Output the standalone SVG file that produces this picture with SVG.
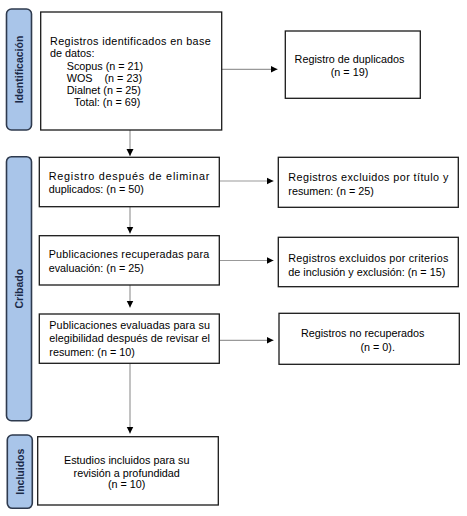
<svg xmlns="http://www.w3.org/2000/svg" width="467" height="516" viewBox="0 0 467 516">
<defs>
<marker id="ah" markerWidth="8" markerHeight="8" refX="7" refY="4" orient="auto" markerUnits="userSpaceOnUse">
<path d="M0,0.5 L7,4 L0,7.5 Z" fill="#000"/>
</marker>
<style>
.box{fill:#fff;stroke:#1a1a1a;stroke-width:1.3}
.side{fill:#a9c5e9;stroke:#2e3a4e;stroke-width:1.6}
.st{font-family:"Liberation Sans",Arial,sans-serif;font-size:10.5px;font-weight:bold;fill:#1b2a48;text-anchor:middle}
.t{font-family:"Liberation Sans",Arial,sans-serif;font-size:10.8px;fill:#000}
.c{text-anchor:middle}
.ln{stroke:#999;stroke-width:1.2;fill:none}
</style>
</defs>
<rect width="467" height="516" fill="#fff"/>
<g id="side-identificacion">
<rect class="side" x="6.5" y="9" width="25" height="121" rx="5"/>
<text class="st" transform="translate(23,69.5) rotate(-90)">Identificación</text>
</g>
<g id="side-cribado">
<rect class="side" x="6.5" y="156.7" width="25" height="264" rx="5"/>
<text class="st" transform="translate(23,288.7) rotate(-90)">Cribado</text>
</g>
<g id="side-incluidos">
<rect class="side" x="7.3" y="435" width="25" height="73.3" rx="5"/>
<text class="st" transform="translate(23.8,471.7) rotate(-90)">Incluidos</text>
</g>
<g id="connectors">
<line class="ln" x1="221.7" y1="69.3" x2="277.5" y2="69.3" marker-end="url(#ah)"/>
<line class="ln" x1="130" y1="130" x2="130" y2="156" marker-end="url(#ah)"/>
<line class="ln" x1="219.3" y1="181" x2="273.5" y2="181" marker-end="url(#ah)"/>
<line class="ln" x1="130" y1="206.7" x2="130" y2="233.5" marker-end="url(#ah)"/>
<line class="ln" x1="219.3" y1="260.5" x2="273.5" y2="260.5" marker-end="url(#ah)"/>
<line class="ln" x1="130" y1="285" x2="130" y2="307.5" marker-end="url(#ah)"/>
<line class="ln" x1="219.3" y1="340.3" x2="273.5" y2="340.3" marker-end="url(#ah)"/>
<line class="ln" x1="130" y1="363.3" x2="130" y2="433.5" marker-end="url(#ah)"/>
</g>
<g id="n1">
<rect class="box" x="40.7" y="12" width="181" height="118"/>
<text class="t" x="50" y="45" textLength="160.7" lengthAdjust="spacing">Registros identificados en base</text>
<text class="t" x="50" y="57">de datos:</text>
<text class="t" x="66.7" y="69.5">Scopus (n = 21)</text>
<text class="t" x="66.7" y="81.7">WOS <tspan x="104.5">(n = 23)</tspan></text>
<text class="t" x="66.7" y="93.7">Dialnet (n = 25)</text>
<text class="t" x="74" y="106">Total: (n = 69)</text>
</g>
<g id="n2">
<rect class="box" x="285.3" y="31" width="135" height="67.3"/>
<text class="t c" x="349.5" y="63">Registro de duplicados</text>
<text class="t c" x="349.5" y="75.7">(n = 19)</text>
</g>
<g id="n3">
<rect class="box" x="39.3" y="157.3" width="180" height="49.4"/>
<text class="t" x="48.7" y="180" textLength="160.6" lengthAdjust="spacing">Registro después de eliminar</text>
<text class="t" x="48.7" y="193.3">duplicados: (n = 50)</text>
</g>
<g id="n4">
<rect class="box" x="278.3" y="157.3" width="180" height="50"/>
<text class="t" x="288.3" y="180.7" textLength="160" lengthAdjust="spacing">Registros excluidos por título y</text>
<text class="t" x="288.3" y="195">resumen: (n = 25)</text>
</g>
<g id="n5">
<rect class="box" x="39.3" y="235.7" width="180" height="49.3"/>
<text class="t" x="48.7" y="258" textLength="160.6" lengthAdjust="spacing">Publicaciones recuperadas para</text>
<text class="t" x="48.7" y="271.7">evaluación: (n = 25)</text>
</g>
<g id="n6">
<rect class="box" x="278.3" y="237.3" width="180" height="49.4"/>
<text class="t" x="288.3" y="262.3" textLength="160" lengthAdjust="spacing">Registros excluidos por criterios</text>
<text class="t" x="288.3" y="275.7">de inclusión y exclusión: (n = 15)</text>
</g>
<g id="n7">
<rect class="box" x="39.3" y="314" width="180" height="49.3"/>
<text class="t" x="49.3" y="329" textLength="160.7" lengthAdjust="spacing">Publicaciones evaluadas para su</text>
<text class="t" x="49.3" y="342.3" textLength="160.7" lengthAdjust="spacing">elegibilidad después de revisar el</text>
<text class="t" x="49.3" y="355.7">resumen: (n = 10)</text>
</g>
<g id="n8">
<rect class="box" x="279" y="313.3" width="180.3" height="51"/>
<text class="t c" x="362.7" y="337.3">Registros no recuperados</text>
<text class="t c" x="377.7" y="351.3">(n = 0).</text>
</g>
<g id="n9">
<rect class="box" x="37.7" y="436.7" width="180.6" height="68.3"/>
<text class="t c" x="126.7" y="464">Estudios incluidos para su</text>
<text class="t c" x="126.7" y="476.7">revisión a profundidad</text>
<text class="t c" x="126.7" y="488.3">(n = 10)</text>
</g>
</svg>
